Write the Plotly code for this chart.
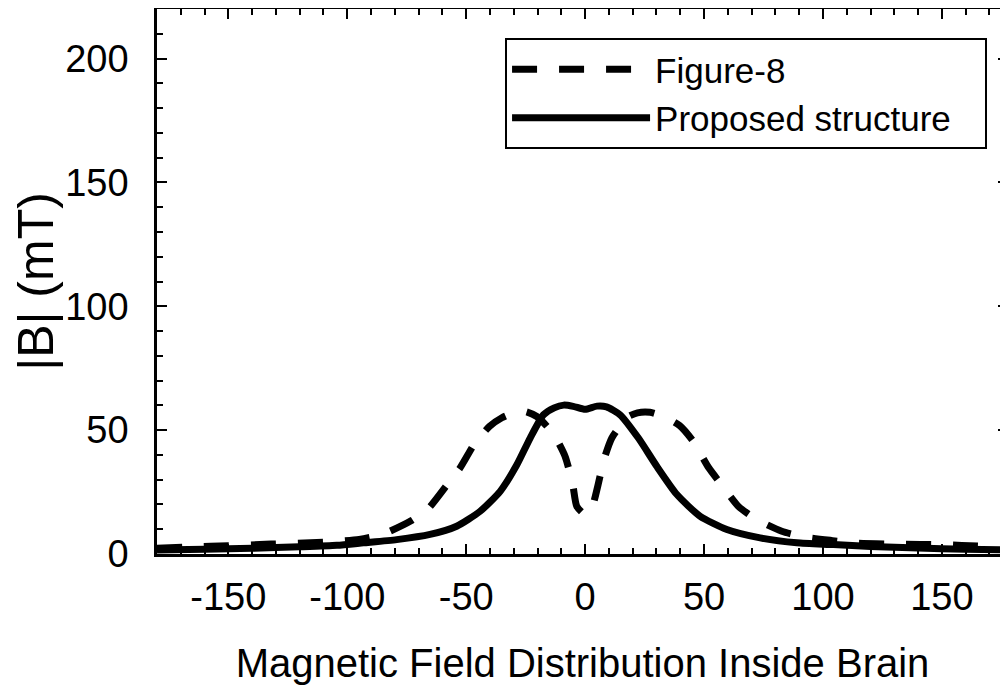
import plotly.graph_objects as go

# Figure-8 coil (dashed)
fig8_x = [-180, -165, -150, -132, -110, -95, -85, -73, -66, -58, -52.6, -46.3, -40.2, -35, -29.4, -25, -20.3,
          -16, -12.6, -8.4, -5.2, -3.5, 0, 2.8, 5.2, 8, 11.2, 15, 18.2, 22, 27.3, 33, 39.7, 45.3, 51.9, 57.1,
          64.5, 72.2, 82.7, 92.5, 104, 114, 130, 152, 165, 180]
fig8_y = [2.3, 2.9, 3.3, 4.0, 4.8, 5.9, 8.0, 13.5, 18.3, 28.0, 34.7, 44.8, 51.5, 55.0, 57.2, 57.5, 55.5,
          51.5, 47.4, 39.4, 28.0, 19.2, 16.0, 18.6, 26.9, 38.4, 46.8, 52.0, 55.5, 57.0, 57.2, 55.5, 51.9, 45.7, 34.9, 28.3,
          19.2, 13.9, 9.2, 6.8, 5.4, 4.4, 4.0, 3.7, 3.2, 2.8]

# Proposed structure (solid)
prop_x = [-180, -160, -140, -120, -104.4, -93.2, -79.2, -65.2, -54, -44.2, -35.7, -28.7, -23.1, -17.5, -13,
          -9, -5, 0, 5, 9, 14.7, 22.4, 30.2, 38.6, 48.4, 59.6, 73.6, 89, 104.4, 120, 140, 160, 180]
prop_y = [1.6, 1.9, 2.3, 2.9, 3.5, 4.5, 5.8, 7.9, 11.2, 17.2, 25.3, 36.0, 46.8, 56.2, 59.0,
          60.1, 59.6, 58.4, 59.7, 59.4, 56.2, 46.8, 35.3, 24.0, 15.2, 9.9, 6.5, 4.5, 3.8, 3.0, 2.4, 1.9, 1.6]

x_ticks = [-150, -100, -50, 0, 50, 100, 150]
y_ticks = [0, 50, 100, 150, 200]

FONT = "Liberation Sans, Arial, sans-serif"
PAD = "\u00a0\u00a0\u00a0"  # right padding inside the legend box

fig = go.Figure()
fig.add_trace(go.Scatter(x=fig8_x, y=fig8_y, mode="lines", name="Figure-8",
                         line=dict(color="black", width=7, dash="25px,22px", shape="spline", smoothing=0.6)))
fig.add_trace(go.Scatter(x=prop_x, y=prop_y, mode="lines", name="Proposed structure" + PAD,
                         line=dict(color="black", width=7, shape="spline", smoothing=0.6)))

axis_common = dict(showline=True, linecolor="black", linewidth=2.5, mirror="ticks",
                   ticks="inside", ticklen=10, tickwidth=2, tickcolor="black",
                   showgrid=False, zeroline=False, automargin=False,
                   tickfont=dict(family=FONT, size=38, color="black"))

fig.update_xaxes(range=[-180, 177.8], tickvals=x_ticks, ticktext=[str(v) for v in x_ticks],
                 minor=dict(dtick=10, tick0=0, ticks="inside", ticklen=6, tickcolor="black", tickwidth=1.5),
                 title=dict(text="Magnetic Field Distribution Inside Brain",
                            font=dict(family=FONT, size=40, color="black"), standoff=32),
                 ticklabelstandoff=8,
                 **axis_common)
fig.update_yaxes(range=[0, 220], tickvals=y_ticks, ticktext=[str(v) for v in y_ticks],
                 minor=dict(dtick=10, tick0=0, ticks="inside", ticklen=6, tickcolor="black", tickwidth=1.5),
                 title=dict(text="|B| (mT)", font=dict(family=FONT, size=50, color="black"), standoff=16),
                 ticklabelstandoff=18,
                 **axis_common)

# page body adds an 8px margin, so the figure is 1000x680 and fills the rest of the window
fig.update_layout(
    width=1000, height=680,
    margin=dict(l=149, r=0, t=1, b=134, autoexpand=False),
    plot_bgcolor="white", paper_bgcolor="white",
    legend=dict(x=0.409, y=0.947, xanchor="left", yanchor="top",
                bordercolor="black", borderwidth=2, bgcolor="white",
                font=dict(family=FONT, size=35, color="black"),
                itemwidth=138, tracegroupgap=0),
    showlegend=True,
)

fig.write_html("out.html")
